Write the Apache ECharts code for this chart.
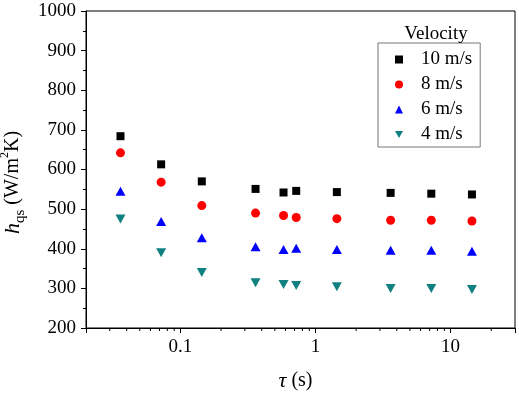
<!DOCTYPE html>
<html>
<head>
<meta charset="utf-8">
<script src="https://cdn.jsdelivr.net/npm/echarts@6/dist/echarts.min.js"></script>
<style>
    html, body { margin: 0; padding: 0; background: #fff; }
    #chart { width: 519px; height: 394px; }
</style>
</head>
<body>
<div id="chart"></div>
<script>
// 时间 tau (s)
var tau = [0.036, 0.072, 0.144, 0.36, 0.58, 0.72, 1.44, 3.6, 7.2, 14.4];
// h_qs 各风速
var v10 = [684, 613, 570, 551, 542, 546, 543, 541, 539, 537];
var v8 = [642, 568, 509, 490, 484, 479, 476, 472, 472, 470];
var v6 = [545, 469, 428, 405, 398, 401, 398, 396, 396, 394];
var v4 = [475, 390, 340, 314, 310, 307, 304, 300, 300, 297];
var seriesNames = ['10 m/s', '8 m/s', '6 m/s', '4 m/s'];
var xTickLabels = ['0.1', '1', '10'];
var xMinorTicks = [0.03, 0.04, 0.05, 0.06, 0.07, 0.08, 0.09, 0.2, 0.3, 0.4, 0.5, 0.6, 0.7, 0.8, 0.9, 2, 3, 4, 5, 6, 7, 8, 9, 20];

var font = 'Liberation Serif';
var myChart = echarts.init(document.getElementById('chart'));

function pairs(ys) {
    return tau.map(function (x, i) { return [x, ys[i]]; });
}

// 通用文字样式
function txt(size, extra) {
    var s = { fontFamily: font, fontSize: size, fontWeight: 'normal', fontStyle: 'normal', color: '#000' };
    for (var k in extra) s[k] = extra[k];
    return s;
}

var downTri = 'path://M0,0L10,0L5,9Z';

var option = {
    animation: false,
    textStyle: txt(19),
    grid: { left: 86, right: 4, top: 11, bottom: 66, show: true, borderColor: '#000', borderWidth: 1, outerBoundsMode: 'none', containLabel: false },
    title: {
        text: 'Velocity',
        left: 431, top: 20, textAlign: 'center',
        textStyle: txt(19)
    },
    legend: {
        data: seriesNames,
        orient: 'vertical',
        left: 378, top: 43,
        padding: [7, 8, 3, 17],
        itemGap: 6,
        itemWidth: 8, itemHeight: 8,
        symbolKeepAspect: true,
        borderColor: '#777', borderWidth: 1,
        textStyle: txt(19, { padding: [0, 0, 0, 13] })
    },
    xAxis: {
        type: 'log', logBase: 10, min: 0.02, max: 30,
        name: '{i|τ} (s)', nameLocation: 'middle', nameGap: 42,
        nameTextStyle: txt(20, { padding: [0, 10, 0, 0], rich: { i: txt(22, { fontStyle: 'italic' }) } }),
        axisLine: { lineStyle: { color: '#000', width: 1 } },
        axisTick: { show: true, inside: false, length: 5, lineStyle: { color: '#000' } },
        axisLabel: txt(19, {
            margin: 10,
            formatter: function (v) {
                var s = String(+v.toPrecision(6));
                return xTickLabels.indexOf(s) >= 0 ? s : '';
            }
        }),
        splitLine: { show: false }
    },
    yAxis: {
        type: 'value', min: 200, max: 1000, interval: 100,
        name: '{i|h}{sub|qs} (W/m{sup|2}K)', nameLocation: 'middle', nameGap: 47, nameRotate: 90,
        nameTextStyle: txt(20, {
            lineHeight: 28,
            padding: [0, 26, 0, 0],
            rich: {
                i: txt(22, { fontStyle: 'italic', lineHeight: 28 }),
                sub: txt(15, { verticalAlign: 'bottom', lineHeight: 28 }),
                sup: txt(12, { verticalAlign: 'top', lineHeight: 28 })
            }
        }),
        axisLine: { show: true, lineStyle: { color: '#000', width: 1 } },
        axisTick: { show: true, inside: false, length: 5, lineStyle: { color: '#000' } },
        minorTick: { show: true, splitNumber: 2, length: 3, lineStyle: { color: '#000' } },
        axisLabel: txt(19, { margin: 10, formatter: function (v) { return String(v); } }),
        splitLine: { show: false }
    },
    series: [
        { name: '10 m/s', type: 'scatter', symbol: 'rect', symbolSize: 8, itemStyle: { color: '#000', opacity: 1 }, data: pairs(v10) },
        { name: '8 m/s', type: 'scatter', symbol: 'circle', symbolSize: 9, itemStyle: { color: '#ff0000', opacity: 1 }, data: pairs(v8) },
        { name: '6 m/s', type: 'scatter', symbol: 'triangle', symbolSize: [10, 9], itemStyle: { color: '#0000ff', opacity: 1 }, data: pairs(v6) },
        { name: '4 m/s', type: 'scatter', symbol: downTri, symbolSize: [10, 9], itemStyle: { color: '#118080', opacity: 1 }, data: pairs(v4) },
        {
            // x轴次刻度
            type: 'custom', silent: true, clip: false,
            data: xMinorTicks.map(function (v) { return [v, 200]; }),
            renderItem: function (params, api) {
                var p = api.coord([api.value(0), api.value(1)]);
                return { type: 'line', shape: { x1: p[0], y1: p[1], x2: p[0], y2: p[1] + 3 }, style: { stroke: '#000', lineWidth: 1 } };
            }
        }
    ]
};
myChart.setOption(option);
</script>
</body>
</html>
